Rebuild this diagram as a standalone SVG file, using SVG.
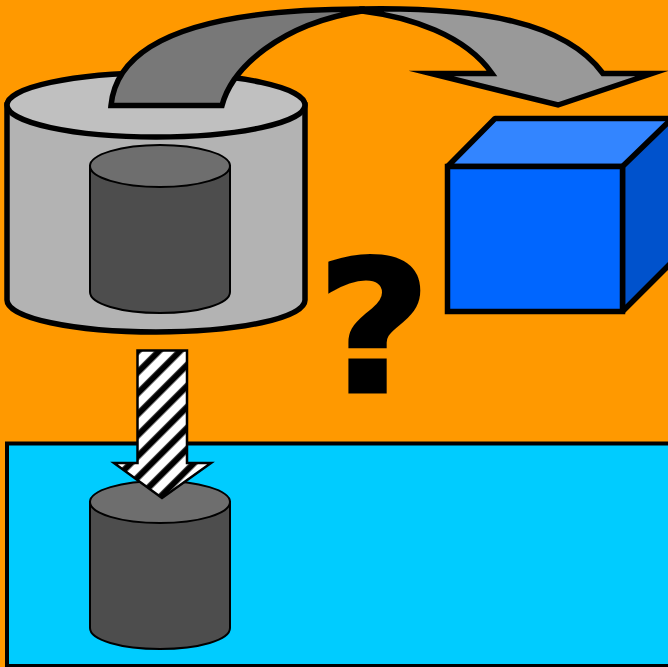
<svg xmlns="http://www.w3.org/2000/svg" width="668" height="667" viewBox="0 0 668 667">
<style>
.k{stroke:#000;stroke-linejoin:miter;stroke-miterlimit:20}
.t{stroke-width:5.5}
.n{stroke-width:2}
.b{stroke-linejoin:bevel}
.q{font-family:"DejaVu Sans","Liberation Sans",sans-serif;font-weight:700;fill:#000;stroke:#000;stroke-width:3;text-anchor:middle}
</style>
<defs>
<pattern id="stripe" width="14.85" height="14.85" patternUnits="userSpaceOnUse" patternTransform="rotate(45)">
<rect width="14.85" height="14.85" fill="#fff"/>
<rect x="1.2" width="6.2" height="14.85" fill="#000"/>
</pattern>
</defs>
<rect width="668" height="667" fill="#ff9900"/>
<g id="water"><rect class="k" x="7" y="443.5" width="670" height="222.5" fill="#00ccff" stroke-width="4"/></g>
<g id="big-cylinder">
<path class="k t" d="M7,105V300C7,318 74,332 156,332S305,318 305,300V105Z" fill="#b3b3b3"/>
<ellipse class="k t" cx="156" cy="105" rx="149" ry="32" fill="#c0c0c0"/>
</g>
<g id="inner-cylinder">
<path class="k n" d="M90,166V292C90,304 121,313 160,313S230,304 230,292V166Z" fill="#4d4d4d"/>
<ellipse class="k n" cx="160" cy="166" rx="70" ry="21" fill="#6e6e6e"/>
</g>
<g id="lower-cylinder">
<path class="k n" d="M90,502V628C90,640 121,649 160,649S230,640 230,628V502Z" fill="#4d4d4d"/>
<ellipse class="k n" cx="160" cy="502" rx="70" ry="21" fill="#6e6e6e"/>
</g>
<g id="cube">
<path class="k t b" d="M447.500,166.500L495,118.500H680L622.500,166.500Z" fill="#3385ff"/>
<path class="k t b" d="M622.500,166.500L672,118.500V262L622.500,311.500Z" fill="#0052cc"/>
<rect class="k t" x="447.500" y="166.500" width="175" height="145" fill="#0066ff"/>
</g>
<g id="question"><text class="q" transform="translate(374 391.500) scale(1.08 1)" font-size="184">?</text></g>
<g id="connectors">
<path class="k t" d="M362,9C480,7 565,22 603,73.500H652L558,105L431,73.500H492C465,35 410,17 362,11Z" fill="#999999"/>
<path class="k t" d="M111,105.500C118,30 230,9 362,9V11C280,24 232,68 222,105.500Z" fill="#787878"/>
<path class="k" stroke-width="2.500" d="M137.500,350.500H187V463H211L162,498L114,463H137.500Z" fill="url(#stripe)"/>
</g>
</svg>
